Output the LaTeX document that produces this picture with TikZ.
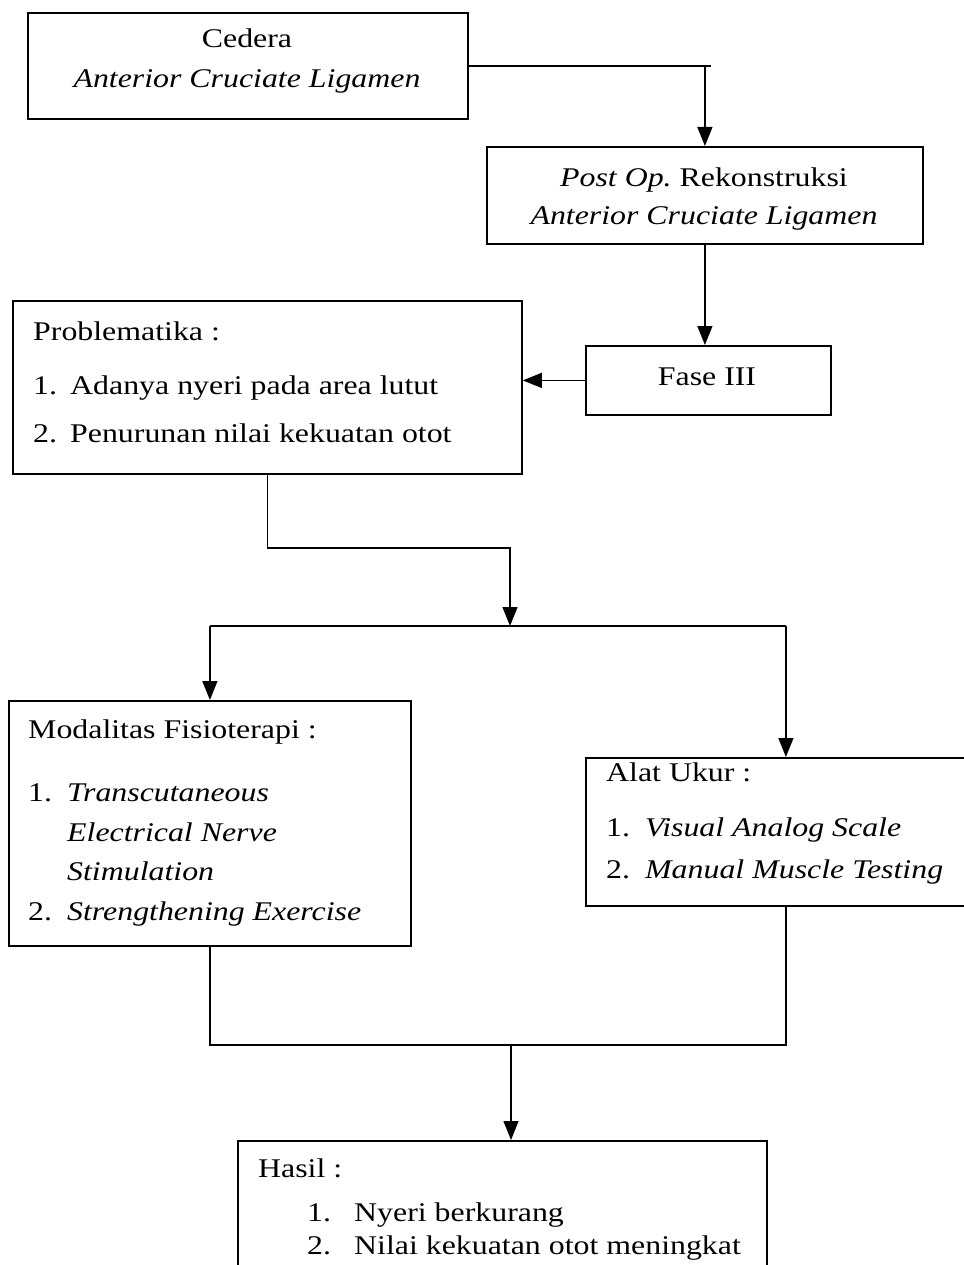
\documentclass[tikz,border=0pt]{standalone}
\usepackage{fontspec}
\setmainfont{Liberation Serif}[FakeStretch=1.18]
\usetikzlibrary{arrows.meta, positioning, calc}
\frenchspacing

\tikzset{
  % boxes
  flowbox/.style={
    rectangle, draw=black, line width=1.8pt, inner sep=0pt, anchor=north west,
  },
  % texts
  txt/.style={inner sep=0pt, font=\fontsize{27pt}{40pt}\selectfont},
  ctxt/.style={txt, anchor=base},
  ltxt/.style={txt, anchor=base west},
  % connectors
  link/.style={line width=1.4pt},
  myarrow/.style={-{Triangle[length=19pt,width=15pt]}, line width=1.4pt},
}

\begin{document}
\begin{tikzpicture}[x=1pt, y=-1pt]
  \useasboundingbox (0,0) rectangle (963,1265);

  % Cedera
  \node[flowbox, minimum width=440pt, minimum height=106pt] (cedera) at (27,12) {};
  \node[ctxt] (cederaA) at (247,48) {Cedera};
  \node[ctxt] (cederaB) at (247,88) {\textit{Anterior Cruciate Ligamen}};

  % Post Op
  \node[flowbox, minimum width=436pt, minimum height=97pt] (postop) at (486,146) {};
  \node[ctxt] (postopA) at (704,187) {\textit{Post Op.} Rekonstruksi};
  \node[ctxt] (postopB) at (704,225) {\textit{Anterior Cruciate Ligamen}};

  % Fase III
  \node[flowbox, minimum width=245pt, minimum height=69pt] (fase) at (585,345) {};
  \node[ctxt] (faseA) at (707,385) {Fase III};

  % Problematika
  \node[flowbox, minimum width=509pt, minimum height=173pt] (prob) at (12,300) {};
  \node[ltxt] (probT) at (33,340) {Problematika :};
  \node[ltxt] (probN1) at (33,394) {1.};
  \node[ltxt] (probI1) at (70,394) {Adanya nyeri pada area lutut};
  \node[ltxt] (probN2) at (33,442) {2.};
  \node[ltxt] (probI2) at (70,442) {Penurunan nilai kekuatan otot};

  % Modalitas
  \node[flowbox, minimum width=402pt, minimum height=245pt] (modal) at (8,700) {};
  \node[ltxt] (modalT) at (28,738) {Modalitas Fisioterapi :};
  \node[ltxt] (modalN1) at (28,801) {1.};
  \node[ltxt] (modalI1a) at (67,801) {\textit{Transcutaneous}};
  \node[ltxt] (modalI1b) at (67,841) {\textit{Electrical Nerve}};
  \node[ltxt] (modalI1c) at (67,880) {\textit{Stimulation}};
  \node[ltxt] (modalN2) at (28,920) {2.};
  \node[ltxt] (modalI2) at (67,920) {\textit{Strengthening Exercise}};

  % Alat Ukur
  \node[flowbox, minimum width=400pt, minimum height=148pt] (alat) at (585,757) {};
  \node[ltxt] (alatT) at (606,781) {Alat Ukur :};
  \node[ltxt] (alatN1) at (606,836) {1.};
  \node[ltxt] (alatI1) at (645,836) {\textit{Visual Analog Scale}};
  \node[ltxt] (alatN2) at (606,878) {2.};
  \node[ltxt] (alatI2) at (645,878) {\textit{Manual Muscle Testing}};

  % Hasil
  \node[flowbox, minimum width=529pt, minimum height=170pt] (hasil) at (237,1140) {};
  \node[ltxt] (hasilT) at (258,1177) {Hasil :};
  \node[ltxt] (hasilN1) at (307,1221) {1.};
  \node[ltxt] (hasilI1) at (354,1221) {Nyeri berkurang};
  \node[ltxt] (hasilN2) at (307,1254) {2.};
  \node[ltxt] (hasilI2) at (354,1254) {Nilai kekuatan otot meningkat};

  % junctions
  \coordinate (bend) at (510,548);
  \coordinate (split) at (510,626);
  \coordinate (merge) at (511,1045);

  % Arrows
  \draw[link] (cedera.east) -- ($(postop.north |- cedera.east)+(6,0)$);
  \draw[myarrow] (postop.north |- cedera.east) -- (postop.north);
  \draw[myarrow] (postop.south) -- (postop.south |- fase.north);
  \draw[myarrow] (fase.west) -- (fase.west -| prob.east);
  \draw[myarrow] (prob.south) |- (bend) -- (split);
  \draw[link] (modal.north |- split) -- (alat.north |- split);
  \draw[myarrow] (modal.north |- split) -- (modal.north);
  \draw[myarrow] (alat.north |- split) -- (alat.north);
  \draw[link] (modal.south) |- (merge) -| (alat.south);
  \draw[myarrow] (merge) -- (merge |- hasil.north);

\end{tikzpicture}
\end{document}
